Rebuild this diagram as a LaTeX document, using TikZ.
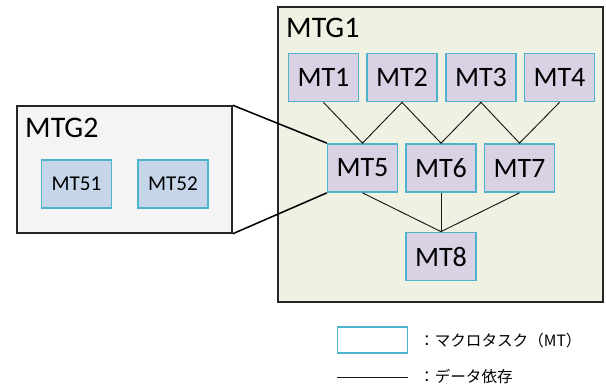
\documentclass[tikz,border=0pt]{standalone}
\usepackage{fontspec}
\setmainfont{Carlito}
\newfontfamily\jpfont{Noto Sans CJK JP}

\definecolor{mtfill}{HTML}{D9D1E4}
\definecolor{mtsubfill}{HTML}{C6D6EA}
\definecolor{mtborder}{HTML}{4FB3CC}
\definecolor{groupone}{HTML}{EFF1E2}
\definecolor{grouptwo}{HTML}{F4F4F4}

\tikzset{
    mt/.style={draw=mtborder, line width=1.2pt, fill=mtfill, minimum width=2.1cm,
        minimum height=1.45cm, inner sep=0pt, font=\fontsize{24}{26}\selectfont},
    mtsub/.style={mt, fill=mtsubfill, font=\fontsize{18}{20}\selectfont},
    group/.style={draw=black!85, line width=1.3pt, inner sep=0pt},
    grouplabel/.style={anchor=west, inner sep=0pt, font=\fontsize{25.5}{28}\selectfont},
    dep/.style={draw=black!90, line width=0.8pt},
    zoomline/.style={draw=black, line width=1.3pt},
    legend/.style={anchor=west, inner sep=0pt, font=\jpfont\fontsize{13.3}{15}\selectfont}
}

\begin{document}
\begin{tikzpicture}[x=0.03cm, y=-0.03cm]
    \useasboundingbox (0,0) rectangle (606,387);

    % Groups
    \node[group, fill=groupone, minimum width=9.75cm, minimum height=8.85cm] (mtg1) at (440.5,154.5) {};
    \node[group, fill=grouptwo, minimum width=6.45cm, minimum height=3.81cm] (mtg2) at (124.5,169.5) {};
    \node[grouplabel] (lbl1) at (286,27.5) {MTG1};
    \node[grouplabel] (lbl2) at (25,128) {MTG2};

    % Macro tasks of MTG1
    \foreach \name/\x/\y in {1/323.5/77.5, 2/402/77.5, 3/481/77.5, 4/559.5/77.5,
                             5/362.5/168, 6/441/168, 7/519.5/168, 8/441/256.5} {
        \node[mt] (mt\name) at (\x,\y) {MT\name};
    }

    % Macro tasks of MTG2
    \node[mtsub] (mt51) at (76.5,184) {MT51};
    \node[mtsub] (mt52) at (173,184) {MT52};

    % Data dependences
    \draw[dep] (mt1.south) -- (mt5.north) -- (mt2.south) -- (mt6.north) -- (mt3.south) -- (mt7.north) -- (mt4.south);
    \foreach \src in {5,6,7} {
        \draw[dep] (mt\src.south) -- (mt8.north);
    }

    % MT5 expanded into MTG2
    \draw[zoomline] (mtg2.north east) -- (mt5.north west);
    \draw[zoomline] (mtg2.south east) -- (mt5.south west);

    % Legend
    \node[mt, fill=white, minimum height=0.78cm] (legbox) at (372.5,340) {};
    \coordinate (legA) at (337,377);
    \coordinate (legB) at (408,377);
    \draw[dep] (legA) -- (legB);
    \node[legend] (legtxt1) at (419,341) {：マクロタスク（MT）};
    \node[legend] (legtxt2) at (419,376) {：データ依存};

\end{tikzpicture}
\end{document}
